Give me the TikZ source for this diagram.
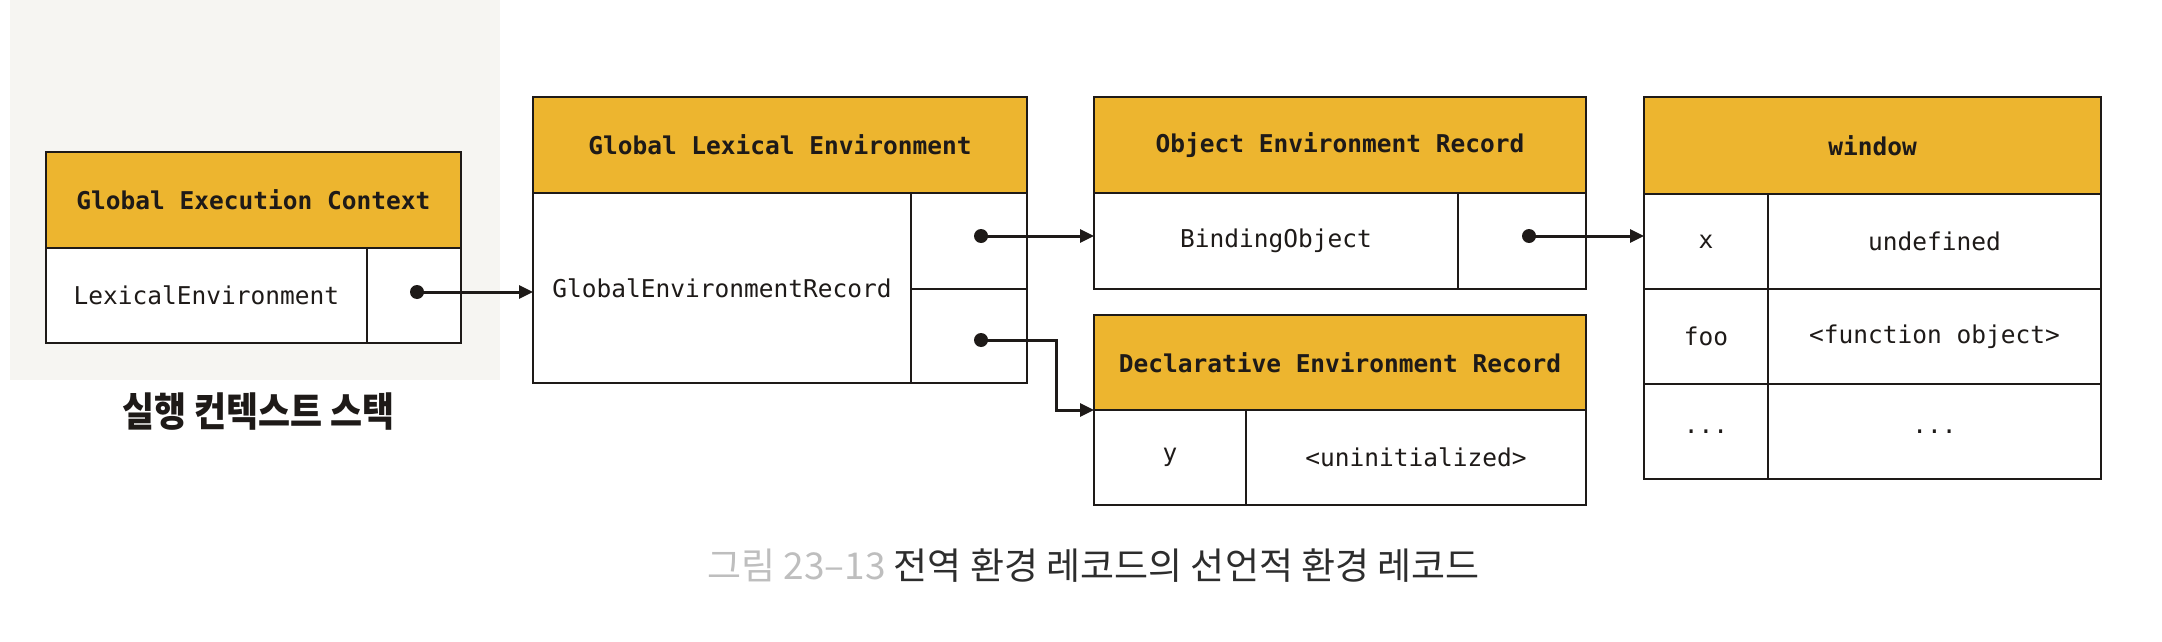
\documentclass[tikz,border=0pt]{standalone}
\usepackage{fontspec}
\setmonofont{DejaVu Sans Mono}
\newfontfamily\krlab[FakeStretch=0.87]{Noto Sans CJK KR}
\newfontfamily\krcap{Noto Sans CJK KR}
\usetikzlibrary{arrows.meta}
\definecolor{headcol}{RGB}{237,181,47}
\definecolor{bgcol}{RGB}{246,245,242}
\definecolor{ink}{RGB}{30,26,24}
\definecolor{capgray}{RGB}{190,190,190}
\definecolor{captext}{RGB}{45,45,45}
\tikzset{
  cell/.style={draw=ink, line width=2.6pt, inner sep=0pt, outer sep=0pt,
    anchor=north west, fill=white, text=ink,
    font=\ttfamily\fontsize{24.5}{29}\selectfont},
  headcell/.style={cell, fill=headcol, font=\ttfamily\bfseries\fontsize{24.5}{29}\selectfont},
  dotnode/.style={circle, fill=ink, inner sep=0pt, minimum size=14pt, outer sep=0pt},
  link/.style={draw=ink, line width=3pt, -{Triangle[length=14pt,width=13pt]}}
}
\begin{document}
\begin{tikzpicture}[x=1pt,y=-1pt]
\useasboundingbox (0,0) rectangle (2162,642);
\fill[bgcol] (10,0) rectangle (500,380);

% Global Execution Context
\node[headcell, minimum width=415pt, minimum height=96pt] (gecH) at (46,152) {Global Execution Context};
\node[cell, minimum width=321pt, minimum height=95pt] (gecL) at (46,248) {LexicalEnvironment};
\node[cell, minimum width=94pt, minimum height=95pt] (gecR) at (367,248) {};
\node[font=\krlab\bfseries\fontsize{40}{46}\selectfont, text=ink] (stack) at (258.5,412) {실행 컨텍스트 스택};

% Global Lexical Environment
\node[headcell, minimum width=494pt, minimum height=96pt] (gleH) at (533,97) {Global Lexical Environment};
\node[cell, minimum width=378pt, minimum height=190pt] (gleL) at (533,193) {GlobalEnvironmentRecord};
\node[cell, minimum width=116pt, minimum height=96pt] (gleR1) at (911,193) {};
\node[cell, minimum width=116pt, minimum height=94pt] (gleR2) at (911,289) {};

% Object Environment Record
\node[headcell, minimum width=492pt, minimum height=96pt] (oerH) at (1094,97) {Object Environment Record};
\node[cell, minimum width=364pt, minimum height=96pt] (oerL) at (1094,193) {BindingObject};
\node[cell, minimum width=128pt, minimum height=96pt] (oerR) at (1458,193) {};

% Declarative Environment Record
\node[headcell, minimum width=492pt, minimum height=95pt] (derH) at (1094,315) {Declarative Environment Record};
\node[cell, minimum width=152pt, minimum height=95pt] (derL) at (1094,410) {y};
\node[cell, minimum width=340pt, minimum height=95pt] (derR) at (1246,410) {<uninitialized>};

% window
\node[headcell, minimum width=457pt, minimum height=97pt] (winH) at (1644,97) {window};
\node[cell, minimum width=124pt, minimum height=95pt] (w1L) at (1644,194) {x};
\node[cell, minimum width=333pt, minimum height=95pt] (w1R) at (1768,194) {undefined};
\node[cell, minimum width=124pt, minimum height=95pt] (w2L) at (1644,289) {foo};
\node[cell, minimum width=333pt, minimum height=95pt] (w2R) at (1768,289) {<function object>};
\node[cell, minimum width=124pt, minimum height=95pt] (w3L) at (1644,384) {...};
\node[cell, minimum width=333pt, minimum height=95pt] (w3R) at (1768,384) {...};

% dots
\node[dotnode] (d0) at (417,292) {};
\node[dotnode] (d1) at (981,236) {};
\node[dotnode] (d2) at (981,340) {};
\node[dotnode] (d3) at (1529,236) {};
\coordinate (bend) at (1056,340);

% connectors
\draw[link] (d0.center) -- (d0 -| gleL.west);
\draw[link] (d1.center) -- (d1 -| oerL.west);
\draw[link] (d2.center) -- (bend) -- (bend |- derH.south) -- (derH.south west);
\draw[link] (d3.center) -- (d3 -| w1L.west);

% caption
\node[anchor=west, inner sep=0pt, font=\krcap\fontsize{37}{43}\selectfont, text=captext] (cap) at (707,566)
  {{\color{capgray}그림 23–13} 전역 환경 레코드의 선언적 환경 레코드};
\end{tikzpicture}
\end{document}
